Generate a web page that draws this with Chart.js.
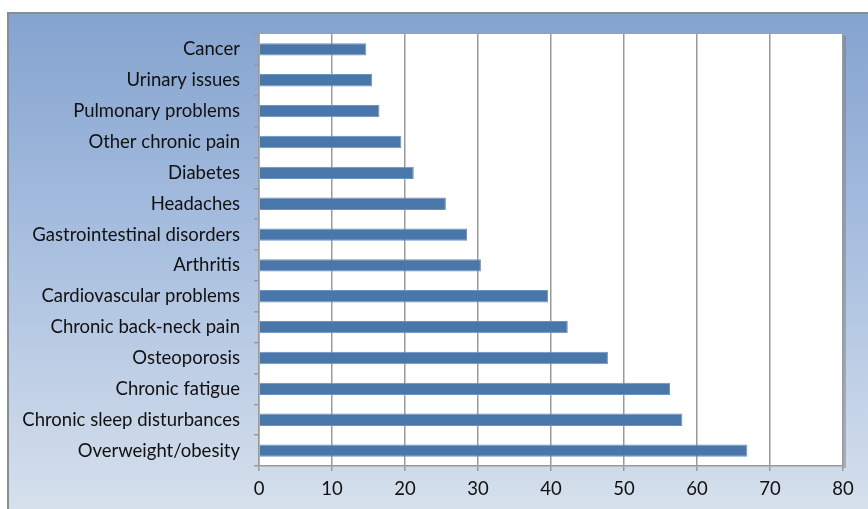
<!DOCTYPE html>
<html>
<head>
<meta charset="utf-8">
<script src="https://cdn.jsdelivr.net/npm/chart.js@4"></script>
<style>
  html, body { margin: 0; padding: 0; background: #ffffff; }
  #wrap { width: 868px; height: 509px; position: relative; }
</style>
</head>
<body>
<div id="wrap"><canvas id="c" width="868" height="509"></canvas></div>
<script>
// Conditions, listed top to bottom
const conditions = [
  'Cancer',
  'Urinary issues',
  'Pulmonary problems',
  'Other chronic pain',
  'Diabetes',
  'Headaches',
  'Gastrointestinal disorders',
  'Arthritis',
  'Cardiovascular problems',
  'Chronic back-neck pain',
  'Osteoporosis',
  'Chronic fatigue',
  'Chronic sleep disturbances',
  'Overweight/obesity'
];
const prevalence = [14.7, 15.5, 16.5, 19.5, 21.2, 25.6, 28.5, 30.4, 39.6, 42.3, 47.8, 56.3, 58.0, 66.9];
const xTicks = [0, 10, 20, 30, 40, 50, 60, 70, 80];

const FONT = 'Lato, "Open Sans", sans-serif';

// Panel background: blue gradient frame plus a white plot area with a soft right shadow
const panelBackground = {
  id: 'panelBackground',
  beforeDraw(chart) {
    const ctx = chart.ctx;
    const a = chart.chartArea;
    const W = chart.width, H = chart.height;
    ctx.save();
    const g = ctx.createLinearGradient(0, 13, 0, H);
    g.addColorStop(0, '#84a3cf');
    g.addColorStop(0.45, '#a7bedf');
    g.addColorStop(1, '#d6e0ec');
    ctx.fillStyle = g;
    ctx.fillRect(8, 13, W - 8, H - 13);
    // frame edges
    ctx.strokeStyle = '#8c8c8c';
    ctx.lineWidth = 2;
    ctx.beginPath();
    ctx.moveTo(8, H);
    ctx.lineTo(8, 13);
    ctx.lineTo(W, 13);
    ctx.stroke();
    // plot area shadow
    ctx.fillStyle = 'rgba(110,110,110,0.4)';
    ctx.fillRect(a.right, a.top + 2, 3, a.bottom - a.top);
    // plot area
    ctx.fillStyle = '#ffffff';
    ctx.fillRect(a.left, a.top, a.right - a.left, a.bottom - a.top);
    ctx.restore();
  }
};

new Chart(document.getElementById('c'), {
  type: 'bar',
  data: {
    labels: conditions,
    datasets: [{
      data: prevalence,
      backgroundColor: '#4a77aa',
      borderColor: '#6b93c2',
      borderWidth: 1,
      borderSkipped: 'start',
      barPercentage: 0.8,
      categoryPercentage: 0.5
    }]
  },
  options: {
    indexAxis: 'y',
    responsive: false,
    animation: false,
    devicePixelRatio: 1,
    layout: { padding: { left: 0, top: 34, right: 25, bottom: 0 } },
    plugins: {
      legend: { display: false },
      tooltip: { enabled: false }
    },
    scales: {
      x: {
        min: 0,
        max: 80,
        afterBuildTicks(axis) { axis.ticks = xTicks.map(v => ({ value: v })); },
        afterFit(axis) { axis.height = 43; },
        grid: {
          color: '#9a9a9a',
          lineWidth: 1.5,
          drawTicks: true,
          tickLength: 5,
          tickColor: '#9a9a9a'
        },
        border: { display: true, color: '#9a9a9a', width: 1.5 },
        ticks: {
          color: '#111111',
          font: { family: FONT, size: 18.5 },
          padding: 7,
          maxRotation: 0
        }
      },
      y: {
        afterFit(axis) { axis.width = 259; },
        grid: {
          offset: true,
          drawOnChartArea: false,
          drawTicks: true,
          tickLength: 5,
          tickColor: '#9a9a9a',
          lineWidth: 1.5
        },
        border: { display: true, color: '#9a9a9a', width: 1.5 },
        ticks: {
          color: '#111111',
          font: { family: FONT, size: 18.5 },
          padding: 14,
          autoSkip: false
        }
      }
    }
  },
  plugins: [panelBackground]
});
</script>
</body>
</html>
